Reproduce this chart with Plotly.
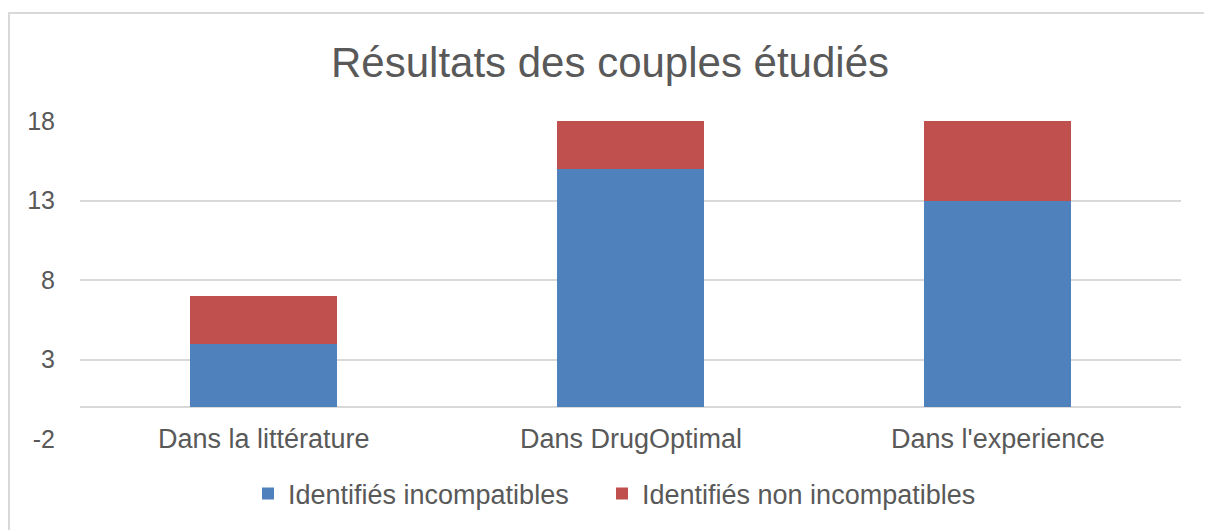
import plotly.graph_objects as go

categories = ["Dans la littérature", "Dans DrugOptimal", "Dans l'experience"]
incompatibles = [4, 15, 13]
non_incompatibles = [3, 3, 5]
y_ticks = [-2, 3, 8, 13, 18]
y_tick_labels = ["-2", "3", "8", "13", "18"]

GRAY_TXT = "#595959"
GRID = "#d9d9d9"
FONT = "Liberation Sans, Arial, sans-serif"

W, H = 1204, 522  # page body has an 8px margin
ML, MR, MT, MB = 72, 31, 113, 91
PW = W - ML - MR

fig = go.Figure()
fig.add_trace(go.Bar(x=categories, y=incompatibles, name="Identifiés incompatibles",
                     marker=dict(color="#4f81bd", line=dict(width=0)), legend="legend"))
fig.add_trace(go.Bar(x=categories, y=non_incompatibles, name="Identifiés non incompatibles",
                     marker=dict(color="#c0504d", line=dict(width=0)), legend="legend2"))

for c in categories:
    fig.add_annotation(x=c, y=y_ticks[0], xref="x", yref="y", text=c, showarrow=False,
                       yanchor="middle", xanchor="center",
                       font=dict(size=27, color=GRAY_TXT, family=FONT))

fig.add_shape(type="rect", xref="paper", yref="paper", x0=(1 - ML) / PW, x1=1.1, y0=-0.4, y1=1.3396,
              line=dict(color="#d9d9d9", width=2), fillcolor="rgba(0,0,0,0)", layer="below")

legend_common = dict(orientation="h", xanchor="left", y=-0.173, yanchor="middle",
                     font=dict(size=27, color=GRAY_TXT, family=FONT), itemwidth=30,
                     bgcolor="rgba(0,0,0,0)")

fig.update_layout(
    width=W, height=H,
    margin=dict(l=ML, r=MR, t=MT, b=MB),
    barmode="stack", bargap=0.6,
    plot_bgcolor="white", paper_bgcolor="white",
    font=dict(family=FONT, color=GRAY_TXT, size=25),
    title=dict(text="Résultats des couples étudiés", x=(610 - 8) / W, xanchor="center",
               y=1 - (62 - 8) / H, yanchor="middle", yref="container",
               font=dict(size=42, color=GRAY_TXT, family=FONT)),
    showlegend=True,
    legend=dict(x=(248 - 8 - ML) / PW, **legend_common),
    legend2=dict(x=(602 - 8 - ML) / PW, **legend_common),
)
fig.update_xaxes(showticklabels=False, showgrid=False, showline=False, ticks="")
fig.update_yaxes(range=[-2, 18], tickvals=y_ticks, ticktext=y_tick_labels,
                 showgrid=True, gridcolor=GRID, gridwidth=2,
                 zeroline=True, zerolinecolor=GRID, zerolinewidth=2, showline=False,
                 ticks="", ticklabelstandoff=24, tickfont=dict(size=25, color=GRAY_TXT, family=FONT))

fig.write_html("out.html")
